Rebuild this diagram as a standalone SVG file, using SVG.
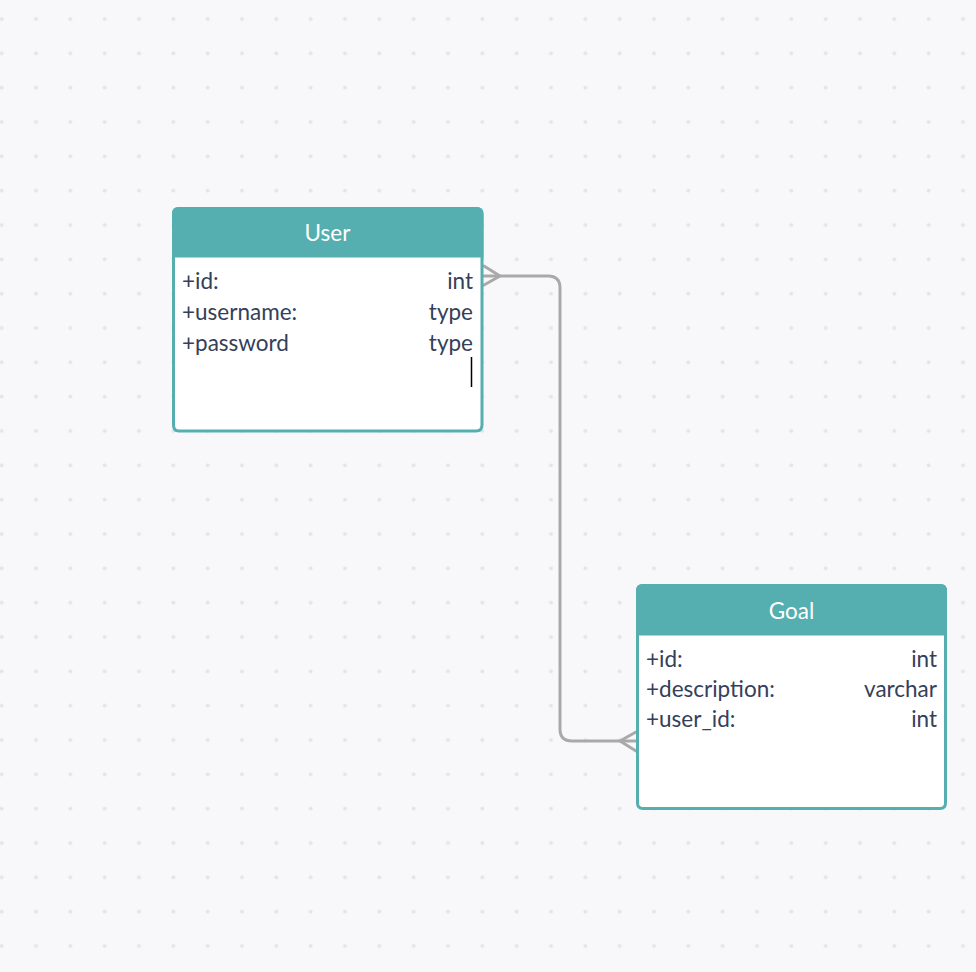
<svg xmlns="http://www.w3.org/2000/svg" width="976" height="972" viewBox="0 0 976 972">
  <defs>
    <pattern id="dots" patternUnits="userSpaceOnUse" x="-15.5" y="1.83" width="34.333" height="34.333">
      <circle cx="17.17" cy="17.17" r="2" fill="#E4E4E9"/>
    </pattern>
  </defs>
  <style>
    .frame { fill: #FFFFFF; stroke: #55AEAF; stroke-width: 3; }
    .head { fill: #55AEAF; }
    .title { font-family: Lato, "Liberation Sans", sans-serif; font-size: 22.5px; fill: #FFFFFF; text-anchor: middle; }
    .row { font-family: Lato, "Liberation Sans", sans-serif; font-size: 22.5px; fill: #34405A; }
    .type { text-anchor: end; }
    .conn { fill: none; stroke: #A9A9A9; stroke-width: 3; stroke-linecap: round; stroke-linejoin: round; }
  </style>
  <rect width="976" height="972" fill="#F8F8FA"/>
  <rect width="976" height="972" fill="url(#dots)"/>

  <g id="connectors">
    <path class="conn" d="M483 276 H548 Q560 276 560 288 V729 Q560 741 572 741 H636"/>
    <path class="conn" d="M484 266 L500 276 L484 285"/>
    <path class="conn" d="M636 732 L620 741 L636 751"/>
  </g>

  <g id="user">
    <path class="frame" d="M178.5 208.5 H476.5 Q482 208.5 482 214 V425 Q482 431 476 431 H179 Q173.5 431 173.5 425 V214 Q173.5 208.5 178.5 208.5 Z"/>
    <path class="head" d="M179 207 H476 Q483.5 207 483.5 214 V257.5 H172 V214 Q172 207 179 207 Z"/>
    <text class="title" x="327.5" y="241">User</text>
    <text class="row" x="182" y="289">+id:</text>
    <text class="row type" x="473" y="289">int</text>
    <text class="row" x="182" y="320">+username:</text>
    <text class="row type" x="473" y="320">type</text>
    <text class="row" x="182" y="351">+password</text>
    <text class="row type" x="473" y="351">type</text>
    <line x1="471.5" y1="357" x2="471.5" y2="387" stroke="#000000" stroke-width="1.5"/>
  </g>

  <g id="goal">
    <path class="frame" d="M642.5 585.5 H940.5 Q945.5 585.5 945.5 591 V803 Q945.5 808.5 940 808.5 H643 Q637.5 808.5 637.5 803 V591 Q637.5 585.5 642.5 585.5 Z"/>
    <path class="head" d="M643 584 H940 Q947 584 947 591 V635.5 H636 V591 Q636 584 643 584 Z"/>
    <text class="title" x="791.5" y="619">Goal</text>
    <text class="row" x="646" y="667">+id:</text>
    <text class="row type" x="937" y="667">int</text>
    <text class="row" x="646" y="697">+description:</text>
    <text class="row type" x="937" y="697">varchar</text>
    <text class="row" x="646" y="727">+user_id:</text>
    <text class="row type" x="937" y="727">int</text>
  </g>
</svg>
